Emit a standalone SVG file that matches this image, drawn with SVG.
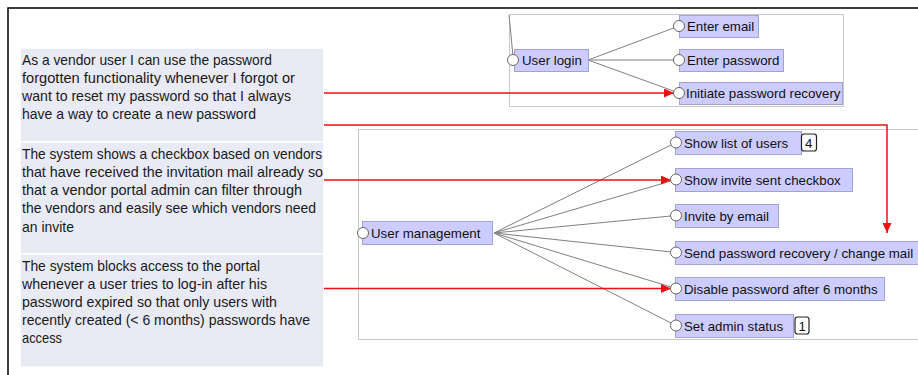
<svg xmlns="http://www.w3.org/2000/svg" width="918" height="375" viewBox="0 0 918 375">
<defs>
<style>
.frame{fill:none;stroke:#c8c8c8;stroke-width:1}
.story{fill:#e8eaf4;stroke:#ffffff;stroke-width:1.5}
.stxt{font-family:"Liberation Sans",Arial,sans-serif;font-size:14.5px;fill:#1a1a1a}
.node{fill:#ccccff;stroke:#a2a2d6;stroke-width:1}
.ntxt{font-family:"Liberation Sans",Arial,sans-serif;font-size:13.3px;fill:#111}
.port{fill:#ffffff;stroke:#666;stroke-width:1}
.edge{stroke:#808080;stroke-width:1;fill:none}
.link{stroke:#ee1111;stroke-width:1.5;fill:none}
.badge{fill:#fff;stroke:#222;stroke-width:1.2}
</style>
<marker id="arr" markerWidth="10" markerHeight="9" refX="10" refY="4.5" orient="auto" markerUnits="userSpaceOnUse">
<path d="M0,0 L10,4.5 L0,9 Z" fill="#ee1111"/>
</marker>
</defs>
<rect width="918" height="375" fill="#ffffff"/>
<path d="M8,375 V8 H918" fill="none" stroke="#000" stroke-width="1.5"/>

<g id="stories">
<g id="story1">
<rect class="story" x="20" y="48" width="304" height="94"/>
<text class="stxt" x="22" y="65" textLength="250" lengthAdjust="spacingAndGlyphs">As a vendor user I can use the password</text>
<text class="stxt" x="22" y="83" textLength="273" lengthAdjust="spacingAndGlyphs">forgotten functionality whenever I forgot or</text>
<text class="stxt" x="22" y="101" textLength="269" lengthAdjust="spacingAndGlyphs">want to reset my password so that I always</text>
<text class="stxt" x="22" y="119" textLength="234" lengthAdjust="spacingAndGlyphs">have a way to create a new password</text>
</g>
<g id="story2">
<rect class="story" x="20" y="142" width="304" height="112"/>
<text class="stxt" x="22" y="159" textLength="300" lengthAdjust="spacingAndGlyphs">The system shows a checkbox based on vendors</text>
<text class="stxt" x="22" y="177" textLength="301" lengthAdjust="spacingAndGlyphs">that have received the invitation mail already so</text>
<text class="stxt" x="22" y="195" textLength="280" lengthAdjust="spacingAndGlyphs">that a vendor portal admin can filter through</text>
<text class="stxt" x="22" y="213" textLength="294" lengthAdjust="spacingAndGlyphs">the vendors and easily see which vendors need</text>
<text class="stxt" x="22" y="232" textLength="52" lengthAdjust="spacingAndGlyphs">an invite</text>
</g>
<g id="story3">
<rect class="story" x="20" y="254" width="304" height="113"/>
<text class="stxt" x="22" y="271" textLength="238" lengthAdjust="spacingAndGlyphs">The system blocks access to the portal</text>
<text class="stxt" x="22" y="289" textLength="245" lengthAdjust="spacingAndGlyphs">whenever a user tries to log-in after his</text>
<text class="stxt" x="22" y="307" textLength="255" lengthAdjust="spacingAndGlyphs">password expired so that only users with</text>
<text class="stxt" x="22" y="325" textLength="288" lengthAdjust="spacingAndGlyphs">recently created (&lt; 6 months) passwords have</text>
<text class="stxt" x="22" y="343" textLength="40" lengthAdjust="spacingAndGlyphs">access</text>
</g>
</g>

<rect class="frame" x="509.5" y="14.5" width="334" height="92"/>
<rect class="frame" x="358.5" y="129.5" width="600" height="210"/>

<g id="connectors">
<line class="edge" x1="509" y1="15" x2="513" y2="56"/>
<line class="edge" x1="588" y1="60" x2="679" y2="26"/>
<line class="edge" x1="588" y1="60" x2="679" y2="60"/>
<line class="edge" x1="588" y1="60" x2="679" y2="93"/>
<line class="edge" x1="494" y1="233" x2="676" y2="142.5"/>
<line class="edge" x1="494" y1="233" x2="676" y2="179.5"/>
<line class="edge" x1="494" y1="233" x2="676" y2="215.5"/>
<line class="edge" x1="494" y1="233" x2="676" y2="252.5"/>
<line class="edge" x1="494" y1="233" x2="676" y2="288.5"/>
<line class="edge" x1="494" y1="233" x2="676" y2="325.5"/>
<path class="link" d="M324,93 H674" marker-end="url(#arr)"/>
<path class="link" d="M324,125 H887 V233" marker-end="url(#arr)"/>
<path class="link" d="M324,180 H671" marker-end="url(#arr)"/>
<path class="link" d="M324,288.5 H671" marker-end="url(#arr)"/>
</g>

<g id="user-login">
<rect class="node" x="514.5" y="49.5" width="74" height="22"/>
<circle class="port" cx="513" cy="60" r="5.5"/>
<text class="ntxt" x="522" y="65">User login</text>
</g>
<g id="enter-email">
<rect class="node" x="679.5" y="15.5" width="79" height="22"/>
<circle class="port" cx="679" cy="26" r="5.5"/>
<text class="ntxt" x="687" y="31">Enter email</text>
</g>
<g id="enter-password">
<rect class="node" x="679.5" y="49.5" width="104" height="22"/>
<circle class="port" cx="679" cy="60" r="5.5"/>
<text class="ntxt" x="687" y="65">Enter password</text>
</g>
<g id="initiate-recovery">
<rect class="node" x="679.5" y="82.5" width="163" height="22"/>
<circle class="port" cx="679" cy="93" r="5.5"/>
<text class="ntxt" x="686" y="98">Initiate password recovery</text>
</g>

<g id="user-management">
<rect class="node" x="362.5" y="221.5" width="130" height="23"/>
<circle class="port" cx="363" cy="233" r="5.5"/>
<text class="ntxt" x="371" y="238">User management</text>
</g>
<g id="show-list">
<rect class="node" x="675.5" y="131.5" width="126" height="23"/>
<circle class="port" cx="676" cy="142.5" r="5.5"/>
<text class="ntxt" x="684" y="148">Show list of users</text>
<rect class="badge" x="801.5" y="134" width="15" height="17" rx="2.5"/>
<text class="ntxt" x="805" y="147.5">4</text>
</g>
<g id="show-invite">
<rect class="node" x="675.5" y="168.5" width="177" height="23"/>
<circle class="port" cx="676" cy="179.5" r="5.5"/>
<text class="ntxt" x="684" y="185">Show invite sent checkbox</text>
</g>
<g id="invite-email">
<rect class="node" x="675.5" y="204.5" width="103" height="23"/>
<circle class="port" cx="676" cy="215.5" r="5.5"/>
<text class="ntxt" x="684" y="221">Invite by email</text>
</g>
<g id="send-recovery">
<rect class="node" x="675.5" y="241.5" width="245" height="23"/>
<circle class="port" cx="676" cy="252.5" r="5.5"/>
<text class="ntxt" x="684" y="258">Send password recovery / change mail</text>
</g>
<g id="disable-password">
<rect class="node" x="675.5" y="277.5" width="209" height="23"/>
<circle class="port" cx="676" cy="288.5" r="5.5"/>
<text class="ntxt" x="684" y="294">Disable password after 6 months</text>
</g>
<g id="set-admin">
<rect class="node" x="675.5" y="314.5" width="118" height="23"/>
<circle class="port" cx="676" cy="325.5" r="5.5"/>
<text class="ntxt" x="684" y="331">Set admin status</text>
<rect class="badge" x="795" y="317" width="14" height="17" rx="2.5"/>
<text class="ntxt" x="798.5" y="330.5">1</text>
</g>
</svg>
